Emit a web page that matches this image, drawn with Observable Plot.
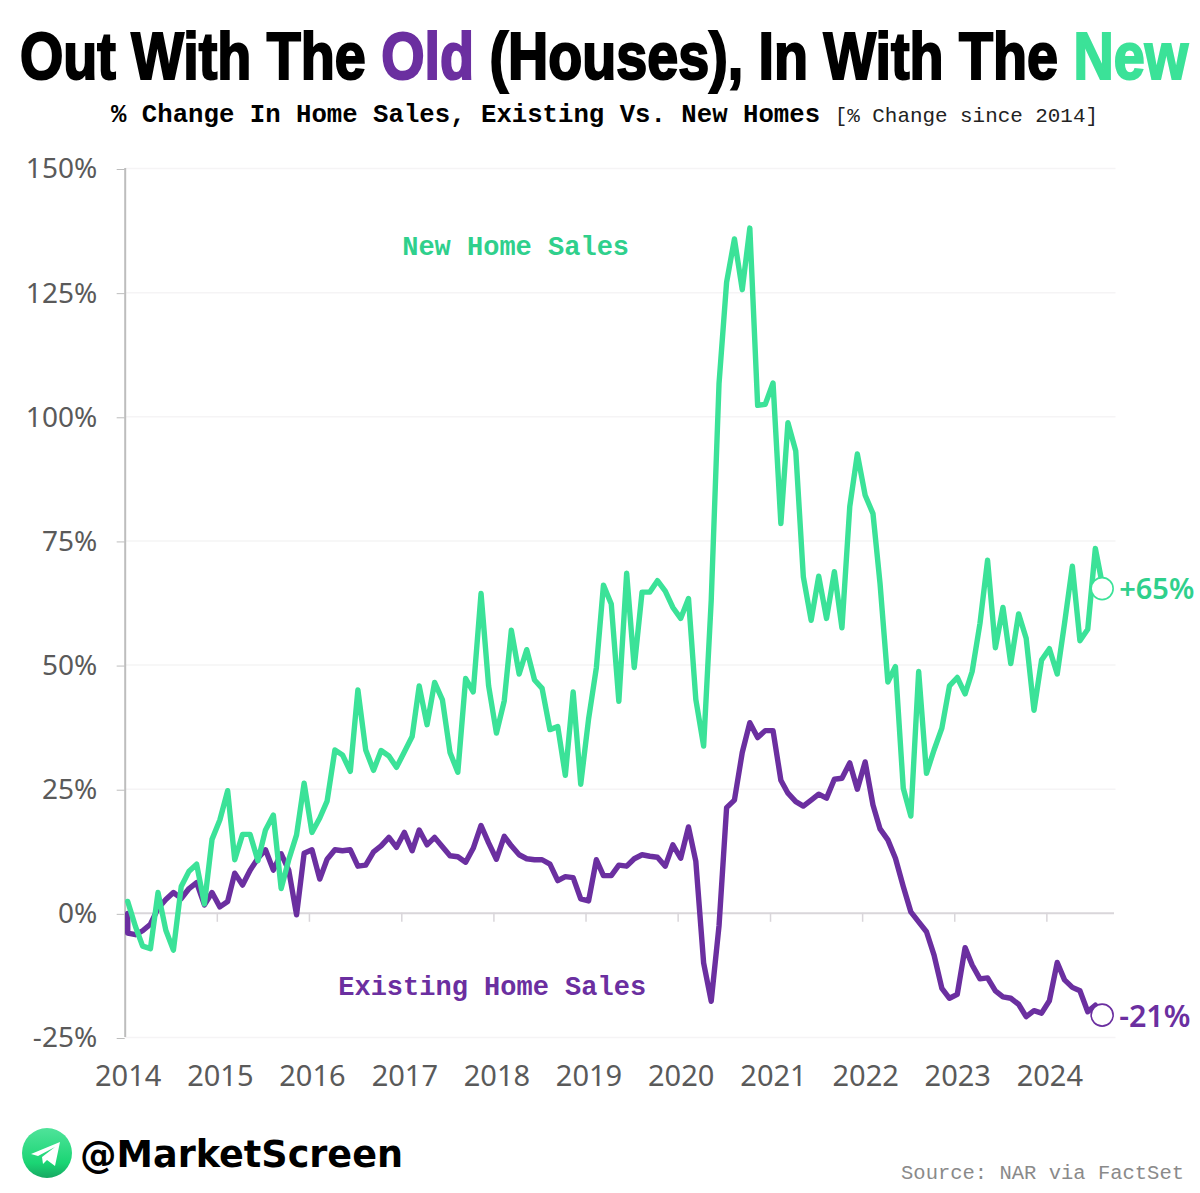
<!DOCTYPE html>
<html>
<head>
<meta charset="utf-8">
<script src="https://cdn.jsdelivr.net/npm/d3@7"></script>
<script src="https://cdn.jsdelivr.net/npm/@observablehq/plot@0.6"></script>
<style>
html,body{margin:0;padding:0;background:#fff;overflow:hidden}
#page{position:relative;width:1200px;height:1193px;overflow:hidden}
#page>*{position:absolute}
#title{left:20px;top:15px;white-space:nowrap;transform-origin:0 0;font-family:"Liberation Sans Narrow","Liberation Sans",sans-serif;font-weight:700;font-size:66px;line-height:82px;color:#000;-webkit-text-stroke:2.2px currentColor}
#sub{left:111px;top:100px;white-space:nowrap;font-family:"Liberation Mono",monospace;color:#000;line-height:32px}
#sub b{font-size:25.7px}
#sub span{font-size:20.9px;margin-left:5px;color:#222}
#plot{left:0;top:150px}
#source{right:16px;top:1162px;font-family:"Liberation Mono",monospace;font-size:20.5px;color:#8a8a8a;white-space:nowrap}
#handle{left:80px;top:1129px;font-family:"DejaVu Sans",sans-serif;font-weight:700;font-size:37px;line-height:52px;color:#000;white-space:nowrap;transform-origin:0 0}
#logo{left:22px;top:1128px}
</style>
</head>
<body>
<div id="page">
  <div id="title">Out With The <span style="color:#6b2fa0">Old</span> (Houses), In With The <span style="color:#3be298">New</span></div>
  <div id="sub"><b>% Change In Home Sales, Existing Vs. New Homes</b> <span>[% Change since 2014]</span></div>
  <div id="plot"></div>
  <svg id="logo" width="50" height="50" viewBox="0 0 50 50">
    <defs><linearGradient id="tg" x1="0" y1="0" x2="0" y2="1"><stop offset="0" stop-color="#4fe39a"/><stop offset=".7" stop-color="#1bd574"/><stop offset="1" stop-color="#17a862"/></linearGradient></defs>
    <circle cx="25" cy="25" r="25" fill="url(#tg)"/>
    <path d="M9 26 L38 14 L33 38 L25 32 L21 36 L20 29 L33 19 L16 28 Z" fill="#fff"/>
  </svg>
  <div id="handle">@MarketScreen</div>
  <div id="source">Source: NAR via FactSet</div>
</div>
<script>
const newHomeSales = [2.4,-2.7,-6.6,-7.1,4.2,-3.4,-7.4,5.4,8.5,9.9,1.9,14.9,18.8,24.7,10.8,15.9,15.9,10.6,16.8,19.8,5.0,10.8,15.8,26.2,16.3,19.2,22.6,32.9,31.9,28.6,45.0,32.9,28.8,32.8,31.7,29.4,32.5,35.6,45.8,38.0,46.5,43.0,32.4,28.4,47.3,44.6,64.4,45.8,36.3,42.8,57.0,48.2,53.1,47.0,45.3,37.0,37.6,27.8,44.6,26.0,39.1,49.5,66.1,62.3,42.7,68.5,49.5,64.7,64.7,67.0,64.9,61.6,59.4,63.4,43.1,33.7,63.0,106.7,127.1,135.8,125.6,138.0,102.3,102.5,106.8,78.5,98.8,93.1,67.8,59.0,67.9,59.4,68.8,57.5,81.9,92.5,84.2,80.5,66.4,46.6,49.7,25.2,19.6,48.7,28.2,32.9,37.3,45.8,47.5,44.2,48.7,58.4,71.1,53.5,61.6,50.3,60.3,55.4,40.9,51.0,53.3,48.2,58.4,69.9,54.9,57.2,73.5,65.4];
const existingHomeSales = [-4.0,-4.3,-3.5,-2.2,1.0,2.8,4.2,3.0,5.0,6.2,1.7,4.2,1.3,2.4,8.1,5.7,8.7,11.1,12.8,8.7,12.0,8.7,-0.3,12.1,12.8,6.9,10.9,12.8,12.6,12.8,9.5,9.7,12.4,13.6,15.3,13.3,16.3,12.6,16.8,13.8,15.3,13.4,11.6,11.4,10.3,13.1,17.7,14.2,10.9,15.5,13.6,11.8,11.0,10.8,10.8,9.9,6.6,7.4,7.2,2.9,2.5,10.8,7.6,7.6,9.7,9.5,11.0,11.8,11.5,11.3,9.5,13.8,11.1,17.4,10.5,-10.0,-17.7,-2.5,21.3,22.8,32.4,38.4,35.4,36.8,36.8,26.8,24.2,22.5,21.6,22.8,24.0,23.2,27.0,27.2,30.3,25.0,30.5,21.8,17.0,14.8,11.1,5.4,0.3,-1.7,-3.7,-8.4,-15.1,-17.1,-16.3,-6.9,-10.4,-13.2,-13.0,-15.6,-16.8,-17.1,-18.3,-20.8,-19.6,-20.1,-17.6,-9.9,-13.4,-14.9,-15.6,-19.8,-18.5,-20.5];
const existingBaseValue = 0;
const yTicks = [-25,0,25,50,75,100,125,150];
const yearTickLabels = [2014,2015,2016,2017,2018,2019,2020,2021,2022,2023,2024];
const seriesNames = ["New Home Sales","Existing Home Sales"];
const endLabels = ["+65%","-21%"];
const green = "#3be298", greenText = "#2fd08c", purple = "#6b2fa0";

const months = d3.utcMonth.range(new Date(Date.UTC(2014,0,1)), new Date(Date.UTC(2024,8,1)));
const dates = months.map(d => d3.utcDay.offset(d, 10));
const newRows = newHomeSales.map((value,i) => ({date:dates[i], value}));
const existingRows = [{date:dates[0], value:existingBaseValue}, ...existingHomeSales.map((value,i) => ({date:dates[i], value}))];
const yearDates = yearTickLabels.map(y => new Date(Date.UTC(y,0,1)));
const xLeft = yearDates[0];
const xRight = new Date(Date.UTC(2024,8,25));
const lastNew = newRows[newRows.length-1], lastExisting = existingRows[existingRows.length-1];

const fontAxis = "'Noto Sans',sans-serif";
const fontMono = "'Liberation Mono',monospace";
const tickColor = "#d9d6da";

const chart = Plot.plot({
  width: 1200, height: 950,
  marginTop: 18, marginBottom: 63, marginLeft: 124.7, marginRight: 86,
  style: {background:"#fff", overflow:"visible"},
  x: {type:"utc", domain:[xLeft, xRight]},
  y: {domain:[-25,150]},
  marks: [
    Plot.ruleY(yTicks.filter(d => d !== 0), {stroke:"#f5f4f5", strokeWidth:1.5, x1:xLeft, x2:new Date(Date.UTC(2024,9,1))}),
    Plot.ruleX([xLeft], {stroke:"#bdbdbd", strokeWidth:2}),
    Plot.ruleY([0], {stroke:tickColor, strokeWidth:2}),
    Plot.ruleX(yearDates.slice(1), {y1:0, y2:-1.8, stroke:tickColor, strokeWidth:1.5}),
    Plot.axisY({ticks:yTicks, tickFormat:d => d + "%", tickSize:8, tickPadding:20, dy:1, stroke:"#bdbdbd", fontSize:28, fill:"#5a5a5a", fontFamily:fontAxis, label:null}),
    Plot.axisX({ticks:yearDates, tickFormat:d => String(d.getUTCFullYear()), tickSize:0, tickPadding:28, dx:3, fontSize:29, fill:"#5a5a5a", fontFamily:fontAxis, label:null}),
    Plot.line(existingRows, {x:"date", y:"value", stroke:purple, strokeWidth:5.4, strokeLinejoin:"round"}),
    Plot.line(newRows, {x:"date", y:"value", stroke:green, strokeWidth:5.4, strokeLinejoin:"round"}),
    Plot.dot([lastNew], {x:"date", y:"value", dx:-1, r:11, fill:"#fff", stroke:green, strokeWidth:1.6}),
    Plot.dot([lastExisting], {x:"date", y:"value", dx:-1, r:11, fill:"#fff", stroke:purple, strokeWidth:1.6}),
    Plot.text([lastNew], {x:"date", y:"value", text:[endLabels[0]], dx:16, dy:1, textAnchor:"start", fill:greenText, fontSize:29, fontWeight:600, fontFamily:fontAxis}),
    Plot.text([lastExisting], {x:"date", y:"value", text:[endLabels[1]], dx:16, dy:2, textAnchor:"start", fill:purple, fontSize:30.5, fontWeight:600, fontFamily:fontAxis}),
    Plot.text([seriesNames[0]], {x:new Date(Date.UTC(2018,2,28)), y:134.4, text:d => d, fill:greenText, fontSize:27, fontWeight:700, fontFamily:fontMono}),
    Plot.text([seriesNames[1]], {x:new Date(Date.UTC(2017,11,25)), y:-14.8, text:d => d, fill:purple, fontSize:27, fontWeight:700, fontFamily:fontMono})
  ]
});
document.getElementById("plot").appendChild(chart);

// fit condensed display text to the reference widths
function fit(id, w){ const el=document.getElementById(id); el.style.transform="none"; const k=w/el.getBoundingClientRect().width; el.style.transform=`scaleX(${k})`; }
fit("title", 1168);
fit("handle", 323);
</script>
</body>
</html>
